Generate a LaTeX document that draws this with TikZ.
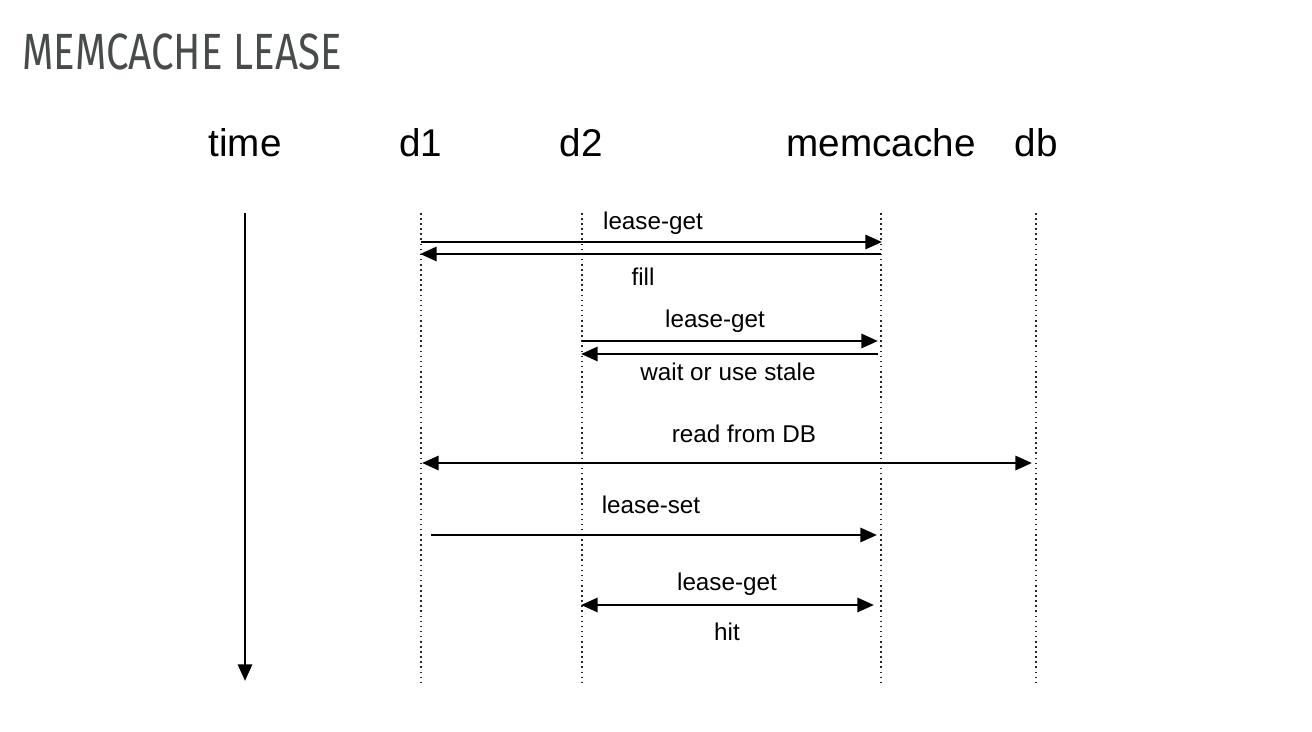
\documentclass[tikz,border=0pt]{standalone}
\usepackage{fontspec}
\setmainfont{Liberation Sans}
\newfontfamily\titlefont[FakeStretch=0.79]{Fira Sans}
\usetikzlibrary{arrows.meta}
\definecolor{titlegray}{HTML}{474C4A}
\tikzset{
    lifeline/.style={dash pattern=on 0.9pt off 2pt, line width=0.9pt, black!85},
    msg/.style={line width=1.7pt, -{Triangle[length=9.5pt,width=8pt]}},
    msgboth/.style={line width=1.7pt, {Triangle[length=9.5pt,width=8pt]}-{Triangle[length=9.5pt,width=8pt]}},
    head/.style={font=\fontsize{22}{26}\selectfont, anchor=base},
    lbl/.style={font=\fontsize{13.8}{16}\selectfont, anchor=base}
}
\begin{document}
\begin{tikzpicture}[x=0.02cm,y=-0.02cm]
        \useasboundingbox (0,0) rectangle (1312,732);
        % Titulo
        \node[anchor=base west, inner sep=0pt, text=titlegray, font=\titlefont\fontsize{29}{34}\selectfont] (title) at (22,70) {MEMCACHE LEASE};
        % Cabeceras
        \node[head] (time) at (245,157) {time};
        \node[head] (d1) at (421,157) {d1};
        \node[head] (d2) at (581,157) {d2};
        \node[head] (mc) at (881,157) {memcache};
        \node[head] (db) at (1036,157) {db};
        % Eje de tiempo
        \coordinate (t0) at (245,213);
        \coordinate (t1) at (245,681);
        \draw[line width=1.7pt, -{Triangle[length=9.5pt,width=8pt]}] (t0) -- (t1);
        % Lineas de vida
        \coordinate (d1a) at (421,213); \coordinate (d1b) at (421,682);
        \coordinate (d2a) at (582,213); \coordinate (d2b) at (582,682);
        \coordinate (mca) at (881,213); \coordinate (mcb) at (881,682);
        \coordinate (dba) at (1036,213); \coordinate (dbb) at (1036,682);
        \draw[lifeline] (d1a) -- (d1b);
        \draw[lifeline] (d2a) -- (d2b);
        \draw[lifeline] (mca) -- (mcb);
        \draw[lifeline] (dba) -- (dbb);
        % d1 pide el lease
        \coordinate (m1a) at (421,242); \coordinate (m1b) at (882,242);
        \draw[msg] (m1a) -- (m1b);
        \node[lbl] (l1) at (653,230) {lease-get};
        \coordinate (m2a) at (881,254); \coordinate (m2b) at (420,254);
        \draw[msg] (m2a) -- (m2b);
        \node[lbl] (l2) at (643,286) {fill};
        % d2 pide el lease
        \coordinate (m3a) at (582,341); \coordinate (m3b) at (878,341);
        \draw[msg] (m3a) -- (m3b);
        \node[lbl] (l3) at (715,328) {lease-get};
        \coordinate (m4a) at (878,354); \coordinate (m4b) at (581,354);
        \draw[msg] (m4a) -- (m4b);
        \node[lbl] (l4) at (728,381) {wait or use stale};
        % Lectura de la base de datos
        \coordinate (m5a) at (422,463); \coordinate (m5b) at (1032,463);
        \draw[msgboth] (m5a) -- (m5b);
        \node[lbl] (l5) at (744,443) {read from DB};
        % d1 escribe
        \coordinate (m6a) at (431,535); \coordinate (m6b) at (877,535);
        \draw[msg] (m6a) -- (m6b);
        \node[lbl] (l6) at (651,514) {lease-set};
        % d2 acierta
        \coordinate (m7a) at (581,605); \coordinate (m7b) at (874,605);
        \draw[msgboth] (m7a) -- (m7b);
        \node[lbl] (l7) at (727,591) {lease-get};
        \node[lbl] (l8) at (727,641) {hit};
    \end{tikzpicture}
\end{document}
